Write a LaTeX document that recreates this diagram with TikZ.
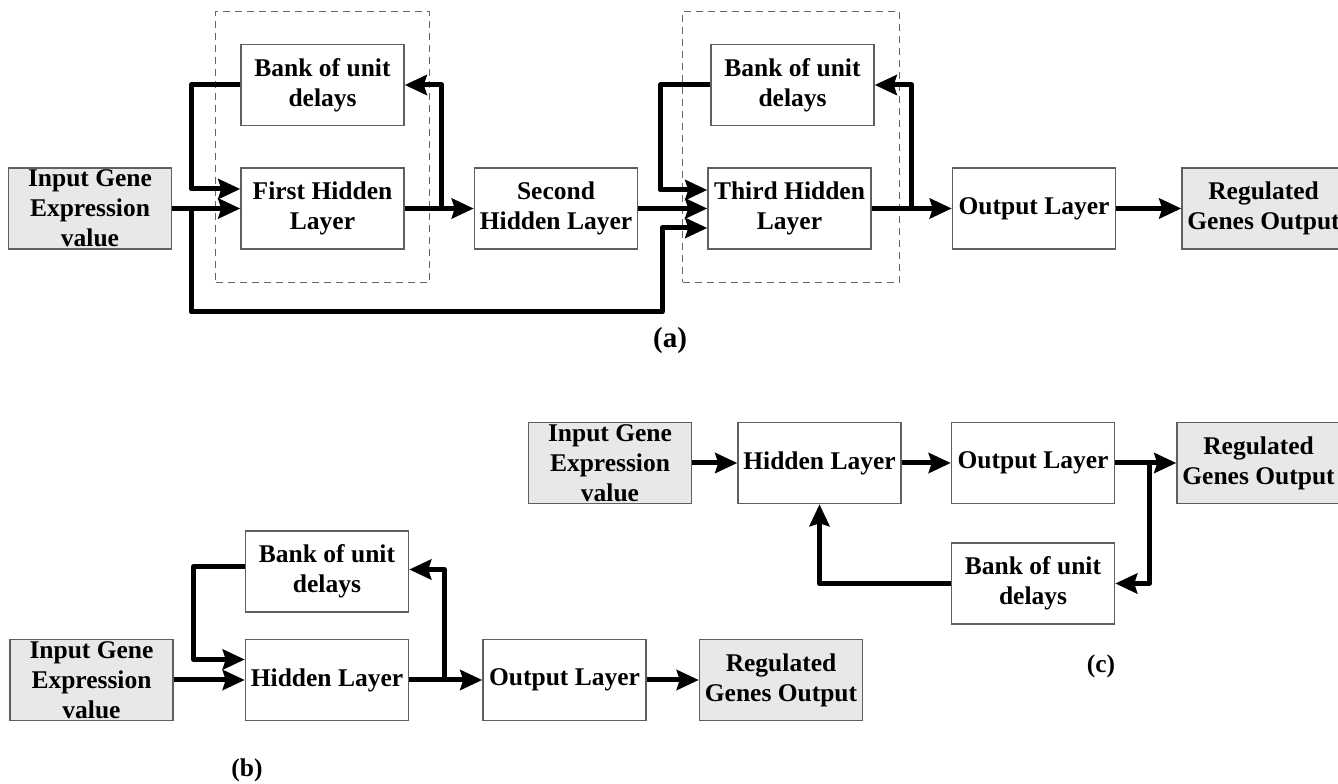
\documentclass[tikz,border=0pt]{standalone}
\usepackage{fontspec}
\setmainfont{Liberation Serif}
\usepackage{tikz}
\usetikzlibrary{fit,positioning,arrows.meta}
\usepackage{xcolor}
\definecolor{iogray}{RGB}{232,232,232}
\definecolor{edgegray}{RGB}{95,95,95}

\begin{document}
\begin{tikzpicture}[x=1pt,y=1pt,
    layerbox/.style={rectangle,draw=edgegray,line width=1.5pt,minimum width=163pt,minimum height=81pt,inner sep=1pt,align=center,font=\bfseries\fontsize{25.5}{30}\selectfont},
    genebox/.style={layerbox,fill=iogray},
    delaygroup/.style={draw=black!60,line width=1.4pt,dash pattern=on 7pt off 5pt,inner xsep=24.5pt,inner ysep=32.5pt},
    flow/.style={line width=5pt,line join=round,-{Stealth[inset=3pt,length=22pt,width=20pt]}},
    figlabel/.style={font=\bfseries\fontsize{25.5}{30}\selectfont}]
    \useasboundingbox (0,0) rectangle (1338,784);

    % (a) three hidden layers
    \node (inA) [genebox] at (90,575.5) {Input Gene\\Expression\\value};
    \node (h1A) [layerbox,right=68pt of inA] {First Hidden\\Layer};
    \node (bk1A) [layerbox,above=41pt of h1A] {Bank of unit\\delays};
    \node (h2A) [layerbox,right=69pt of h1A] {Second\\Hidden Layer};
    \node (h3A) [layerbox,right=69pt of h2A] {Third Hidden\\Layer};
    \node (bk2A) [layerbox,above=41pt of h3A,xshift=3pt] {Bank of unit\\delays};
    \node (outA) [layerbox,right=80pt of h3A] {Output Layer};
    \node (regA) [genebox,right=65pt of outA] {Regulated\\Genes Output};
    \node (grp1) [delaygroup,fit=(bk1A)(h1A)] {};
    \node (grp2) [delaygroup,fit=(bk2A)(h3A)] {};
    \node (capA) [figlabel,font=\bfseries\fontsize{29}{32}\selectfont] at (670,443) {(a)};

    % (b) single hidden layer
    \node (inB) [genebox] at (91.5,104) {Input Gene\\Expression\\value};
    \node (hB) [layerbox,right=71pt of inB] {Hidden Layer};
    \node (bkB) [layerbox,above=26pt of hB] {Bank of unit\\delays};
    \node (outB) [layerbox,right=73pt of hB] {Output Layer};
    \node (regB) [genebox,right=52pt of outB] {Regulated\\Genes Output};
    \node (capB) [figlabel] at (247,14) {(b)};

    % (c) output feedback
    \node (inC) [genebox] at (610,321) {Input Gene\\Expression\\value};
    \node (hC) [layerbox,right=45pt of inC] {Hidden Layer};
    \node (outC) [layerbox,right=49pt of hC] {Output Layer};
    \node (regC) [genebox,right=61pt of outC] {Regulated\\Genes Output};
    \node (bkC) [layerbox,below=38pt of outC] {Bank of unit\\delays};
    \node (capC) [figlabel] at (1101,118) {(c)};

    % Arrows (a)
    \draw[flow] (inA.east) -- (h1A.west);
    \draw[flow] (bk1A.west) -- ++(-49,0) |- ([yshift=19.5pt]h1A.west);
    \draw[flow] (h1A.east) -- (h2A.west);
    \draw[flow] ([xshift=37pt]h1A.east) |- (bk1A.east);
    \draw[flow] ([xshift=19pt]inA.east) |- ([xshift=-45pt,yshift=-103.5pt]h3A.west) |- ([yshift=-19.5pt]h3A.west);
    \draw[flow] (h2A.east) -- (h3A.west);
    \draw[flow] (bk2A.west) -- ++(-50,0) |- ([yshift=18.5pt]h3A.west);
    \draw[flow] (h3A.east) -- (outA.west);
    \draw[flow] ([xshift=40pt]h3A.east) |- (bk2A.east);
    \draw[flow] (outA.east) -- (regA.west);

    % Arrows (b)
    \draw[flow] (inB.east) -- (hB.west);
    \draw[flow] ([yshift=5pt]bkB.west) -- ++(-51,0) |- ([yshift=20.5pt]hB.west);
    \draw[flow] (hB.east) -- (outB.west);
    \draw[flow] ([xshift=35pt]hB.east) |- ([yshift=2pt]bkB.east);
    \draw[flow] (outB.east) -- (regB.west);

    % Arrows (c)
    \draw[flow] (inC.east) -- (hC.west);
    \draw[flow] (hC.east) -- (outC.west);
    \draw[flow] (outC.east) -- (regC.west);
    \draw[flow] ([xshift=34pt]outC.east) |- (bkC.east);
    \draw[flow] (bkC.west) -| (hC.south);
\end{tikzpicture}
\end{document}
